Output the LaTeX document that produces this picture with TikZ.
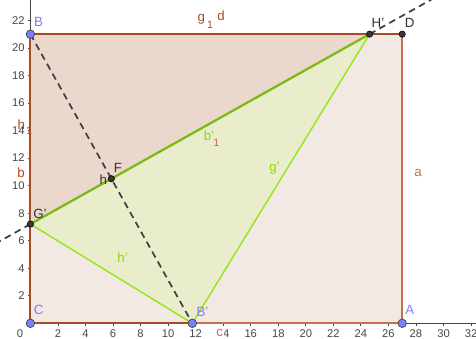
\documentclass[tikz,border=0pt]{standalone}
\usepackage{fontspec}
\setmainfont{Liberation Sans}
\usetikzlibrary{calc}
\definecolor{rectfill}{RGB}{243,233,228}
\definecolor{trifill}{RGB}{234,216,205}
\definecolor{greenfill}{RGB}{234,237,204}
\definecolor{browndark}{RGB}{170,75,35}
\definecolor{brownlight}{RGB}{195,112,75}
\definecolor{greenedge}{RGB}{150,230,30}
\definecolor{greendark}{RGB}{125,185,20}
\definecolor{greentext}{RGB}{135,220,0}
\definecolor{ptblue}{RGB}{125,125,255}
\definecolor{axisgray}{RGB}{70,70,70}
\definecolor{dashgray}{RGB}{64,64,64}
\begin{document}
\begin{tikzpicture}[x=10.33pt,y=10.33pt,
  lbl/.style={font=\fontsize{10}{11}\selectfont, inner sep=0pt},
  sublbl/.style={font=\fontsize{8}{9}\selectfont, inner sep=0pt},
  ticklbl/.style={font=\fontsize{8.4}{9}\selectfont, text=axisgray, inner sep=0pt},
  bluept/.style={circle, fill=ptblue, draw=black!75, line width=0.5pt, minimum size=6.4pt, inner sep=0pt},
  darkpt/.style={circle, fill=black!78, draw=black, line width=0.4pt, minimum size=4.8pt, inner sep=0pt},
  axisline/.style={draw=axisgray, line width=0.6pt},
  edgedark/.style={draw=browndark, line width=1.4pt},
  edgelight/.style={draw=brownlight, line width=1.4pt},
  greenline/.style={draw=greenedge, line width=1.1pt},
  foldline/.style={draw=greendark, line width=1.7pt},
  dashline/.style={draw=dashgray, line width=1.3pt, dash pattern=on 5pt off 3.5pt}]
\useasboundingbox (-2.208,-1.068) rectangle (32.36,23.48);
% geometry
\coordinate (B) at (0,21);
\coordinate (C) at (0,0);
\coordinate (A) at (27,0);
\coordinate (D) at (27,21);
\coordinate (Bq) at (11.76,0);
\coordinate (F) at (5.88,10.5);
\coordinate (G) at (0,7.207);
\coordinate (H) at (24.63,21);
% axes
\draw[axisline] (0,0) -- (32.36,0);
\draw[axisline] (0,0) -- (0,23.48);
\foreach \i in {2,4,...,32} {
  \draw[axisline] (\i,0) -- (\i,-0.2);
  \node[ticklbl] at (\i,-0.72) {\i};
}
\foreach \j in {2,4,...,22} {
  \draw[axisline] (0,\j) -- (-0.2,\j);
  \node[ticklbl, anchor=east] at (-0.4,\j) {\j};
}
\node[ticklbl] at (-0.755,-0.72) {0};
% fills
\fill[rectfill] (C) -- (A) -- (D) -- (B) -- cycle;
\fill[trifill] (B) -- (G) -- (H) -- cycle;
\fill[greenfill] (G) -- (Bq) -- (H) -- cycle;
% rectangle edges
\draw[edgelight] (A) -- (D);
\draw[edgelight] (Bq) -- (A);
\draw[edgedark] (C) -- (Bq);
\draw[edgedark] (D) -- (B);
\draw[edgedark] (B) -- (C);
% green triangle edges
\draw[greenline] (G) -- (Bq);
\draw[greenline] (Bq) -- (H);
\draw[foldline] (G) -- (H);
% dashed lines
\draw[dashline] (B) -- (Bq);
\begin{scope}
\clip (-2.208,-1.068) rectangle (32.36,23.48);
\draw[dashline] (G) -- ($(H)!1.12!(G)$);
\draw[dashline] (H) -- ($(G)!1.25!(H)$);
\end{scope}
% points
\node[bluept] (pB) at (B) {};
\node[bluept] (pC) at (C) {};
\node[bluept] (pA) at (A) {};
\node[bluept] (pBq) at (Bq) {};
\node[darkpt] (pD) at (D) {};
\node[darkpt] (pH) at (H) {};
\node[darkpt] (pG) at (G) {};
\node[darkpt] (pF) at (F) {};
% point labels
\node[lbl, text=ptblue] (lB) at (0.6,21.88) {B};
\node[lbl, text=ptblue] (lC) at (0.6,0.95) {C};
\node[lbl, text=ptblue] (lA) at (27.55,0.95) {A};
\node[lbl, text=ptblue] (lBq) at (12.5,0.85) {B'};
\node[lbl, text=black!80] (lD) at (27.55,21.81) {D};
\node[lbl, text=black!80] (lH) at (25.24,21.81) {H'};
\node[lbl, text=black!80] (lG) at (0.7,7.97) {G'};
\node[lbl, text=black!80] (lF) at (6.35,11.31) {F};
\node[lbl, text=black!80] (lh) at (5.3,10.41) {h};
% edge labels
\node[lbl, text=browndark] (lg1) at (12.42,22.1) {g};
\node[sublbl, text=browndark] (lg1s) at (13.04,21.7) {1};
\node[lbl, text=browndark] (ld) at (13.85,22.32) {d};
\node[lbl, text=browndark] (lh1) at (-0.65,14.39) {h};
\node[sublbl, text=browndark] (lh1s) at (-0.1,13.95) {1};
\node[lbl, text=browndark] (lb) at (-0.68,10.92) {b};
\node[lbl, text=brownlight] (la) at (28.15,10.91) {a};
\node[lbl, text=brownlight, fill=white, inner sep=0.4pt] (lc) at (13.75,-0.67) {c};
\node[lbl, text=greentext] (lbq) at (12.97,13.6) {b'};
\node[sublbl, text=brownlight] (lbqs) at (13.5,13.1) {1};
\node[lbl, text=greentext] (lgq) at (17.73,11.28) {g'};
\node[lbl, text=greentext] (lhq) at (6.69,4.78) {h'};
\end{tikzpicture}
\end{document}
